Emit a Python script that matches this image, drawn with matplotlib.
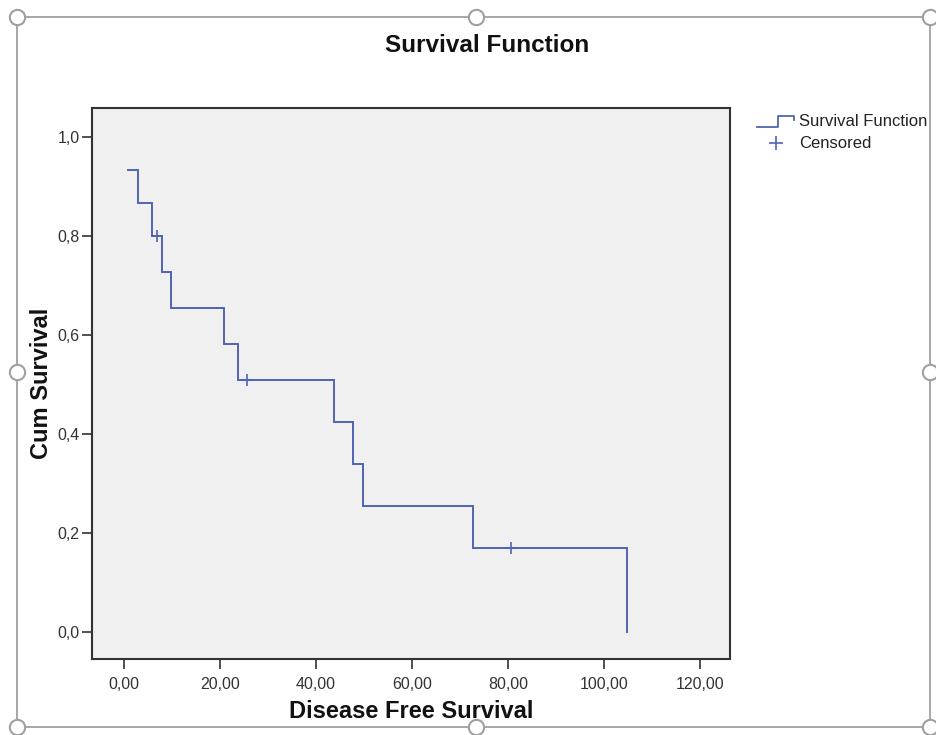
import matplotlib
matplotlib.use("Agg")
import matplotlib.pyplot as plt
from matplotlib.lines import Line2D
from matplotlib.patches import Rectangle

# Data: event times and survival after each event
event_times = [0.9, 2.9, 5.9, 7.8, 9.8, 20.9, 23.7, 43.8, 47.8, 49.7, 72.8, 104.9]
survival = [0.933, 0.867, 0.800, 0.727, 0.655, 0.582, 0.509, 0.424, 0.339, 0.255, 0.170, 0.0]
censor_times = [6.8, 25.6, 80.6]
censor_surv = [0.800, 0.509, 0.170]

x_ticks = [0, 20, 40, 60, 80, 100, 120]
x_ticklabels = ["0,00", "20,00", "40,00", "60,00", "80,00", "100,00", "120,00"]
y_ticks = [0.0, 0.2, 0.4, 0.6, 0.8, 1.0]
y_ticklabels = ["0,0", "0,2", "0,4", "0,6", "0,8", "1,0"]

W, H = 937, 735
fig = plt.figure(figsize=(W / 100, H / 100), dpi=100)
fig.patch.set_facecolor("white")

line_color = "#5064b4"
font = ["Liberation Sans", "DejaVu Sans"]

ax = fig.add_axes([92 / W, 1 - 659 / H, 638 / W, 551 / H])
ax.set_facecolor("#f0f0f0")

# step curve
xs = [event_times[0]]
ys = [survival[0]]
for i in range(1, len(event_times)):
    xs += [event_times[i], event_times[i]]
    ys += [survival[i - 1], survival[i]]
ax.plot(xs, ys, color=line_color, lw=1.4, solid_joinstyle="miter")
ax.plot(censor_times, censor_surv, linestyle="none", marker="+", ms=9,
        mew=1.2, color=line_color)

ax.set_xlim(-6.7, 126.3)
ax.set_ylim(-0.0545, 1.0586)
ax.set_xticks(x_ticks)
ax.set_xticklabels(x_ticklabels, family=font, fontsize=11.5)
ax.set_yticks(y_ticks)
ax.set_yticklabels(y_ticklabels, family=font, fontsize=11.5)
ax.tick_params(direction="out", length=7, width=1.2, color="#333333",
               labelcolor="#333333")
ax.tick_params(axis="x", pad=6)
ax.tick_params(axis="y", pad=2)
for s in ax.spines.values():
    s.set_color("#333333")
    s.set_linewidth(1.5)

ax.set_xlabel("Disease Free Survival", fontsize=17, fontweight="bold",
              family=font, labelpad=6, color="#111111")
ax.set_ylabel("Cum Survival", fontsize=17, fontweight="bold",
              family=font, labelpad=3, color="#111111")
fig.text(487 / W, 1 - 45 / H, "Survival Function", ha="center", va="center",
         fontsize=17.5, fontweight="bold", family=font, color="#111111")

# legend (drawn in figure pixels)
def fx(x):
    return x / W

def fy(y):
    return 1 - y / H

fig.add_artist(Line2D([fx(757), fx(778), fx(778), fx(794), fx(794)],
                      [fy(127), fy(127), fy(116), fy(116), fy(120)],
                      color=line_color, lw=1.3, transform=fig.transFigure))
fig.add_artist(Line2D([fx(776)], [fy(143)], marker="+", ms=10, mew=1.2,
                      color=line_color, linestyle="none",
                      transform=fig.transFigure))
fig.text(fx(799), fy(121), "Survival Function", ha="left", va="center",
         fontsize=12, family=font, color="#222222")
fig.text(fx(799), fy(143), "Censored", ha="left", va="center",
         fontsize=12, family=font, color="#222222")

# selection frame with handles
frame_color = "#a0a0a0"
fig.add_artist(Rectangle((fx(17), fy(727)), fx(930) - fx(17), fy(17) - fy(727),
                         fill=False, edgecolor=frame_color, lw=1.3,
                         transform=fig.transFigure))
handles = [(17, 17), (476, 17), (930, 17), (17, 372), (930, 372),
           (17, 727), (476, 727), (930, 727)]
for (hx, hy) in handles:
    fig.add_artist(Line2D([fx(hx)], [fy(hy)], marker="o", ms=11, mew=1.5,
                          markerfacecolor="white", markeredgecolor=frame_color,
                          linestyle="none", transform=fig.transFigure,
                          clip_on=False))

fig.savefig("out.png", dpi=100, facecolor="white")
